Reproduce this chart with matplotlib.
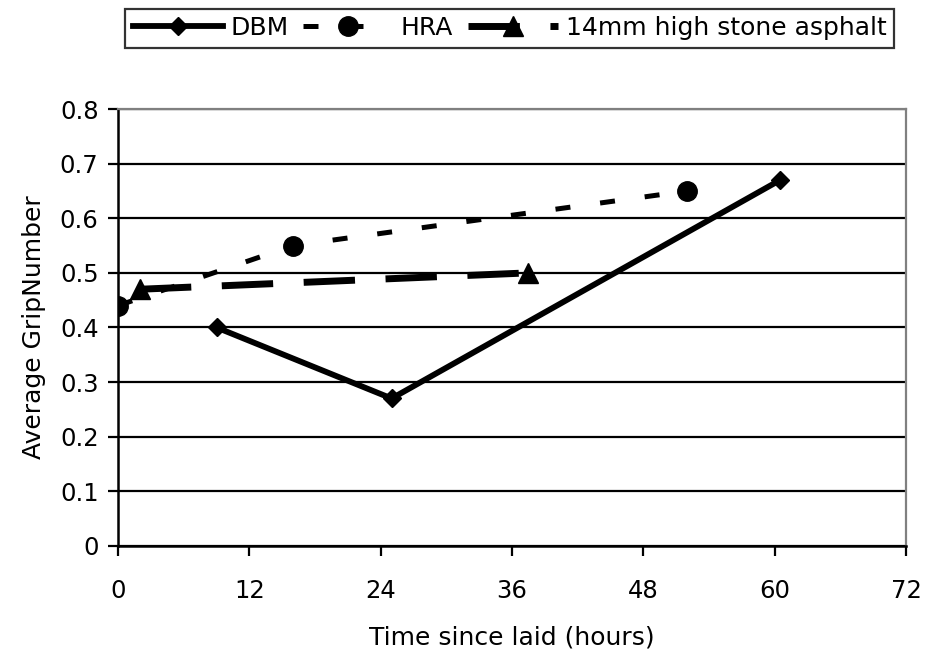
import numpy as np
import matplotlib
matplotlib.use("Agg")
import matplotlib.pyplot as plt

plt.rcParams['font.family'] = ['DejaVu Sans']

# ----- data ----- #
dbm_hours = [9, 25, 60.5]
dbm_grip  = [0.40, 0.27, 0.67]

hra_hours = [0, 16, 52]
hra_grip  = [0.44, 0.55, 0.65]

sma_hours = [2, 37.5]
sma_grip  = [0.47, 0.50]

series_labels = ["DBM", "HRA", "14mm high stone asphalt"]
x_ticks = [0, 12, 24, 36, 48, 60, 72]
y_ticks = [0, 0.1, 0.2, 0.3, 0.4, 0.5, 0.6, 0.7, 0.8]
y_tick_labels = ["0", "0.1", "0.2", "0.3", "0.4", "0.5", "0.6", "0.7", "0.8"]

fig = plt.figure(figsize=(9.25, 6.53), dpi=100)
ax = fig.add_axes([0.1276, 0.164, 0.8519, 0.669])

ax.plot(dbm_hours, dbm_grip, color="black", lw=4.2, ls="-",
        marker="D", ms=9.5, label=series_labels[0], zorder=3)
ax.plot(hra_hours, hra_grip, color="black", lw=3.6, dashes=(3, 6),
        marker="o", ms=14, label=series_labels[1], zorder=3)
ax.plot(sma_hours, sma_grip, color="black", lw=5.0, dashes=(7.4, 4.4),
        marker="^", ms=15, label=series_labels[2], zorder=3)

ax.set_xlim(0, 72)
ax.set_ylim(0, 0.8)
ax.set_xticks(x_ticks)
ax.set_xticklabels([str(t) for t in x_ticks])
ax.set_yticks(y_ticks)
ax.set_yticklabels(y_tick_labels)
ax.tick_params(axis="both", labelsize=17.5, width=1.6, length=7, direction="out")
ax.tick_params(axis="x", pad=17)
ax.tick_params(axis="y", pad=7)

ax.yaxis.grid(True, color="black", lw=1.6)
ax.set_axisbelow(True)
for side in ["left", "bottom"]:
    ax.spines[side].set_color("black")
    ax.spines[side].set_linewidth(1.8)
for side in ["top", "right"]:
    ax.spines[side].set_color("#808080")
    ax.spines[side].set_linewidth(1.6)

ax.set_xlabel("Time since laid (hours)", fontsize=18, labelpad=16)
ax.set_ylabel("Average GripNumber", fontsize=18, labelpad=10)

leg = fig.legend(loc="center", bbox_to_anchor=(0.551, 0.957), ncol=3,
                 fontsize=18, handlelength=3.6, handletextpad=0.3,
                 columnspacing=0.6, frameon=True, fancybox=False,
                 borderpad=0.3, borderaxespad=0)
leg.get_frame().set_edgecolor("black")
leg.get_frame().set_linewidth(1.6)

fig.savefig("out.png", dpi=100)
